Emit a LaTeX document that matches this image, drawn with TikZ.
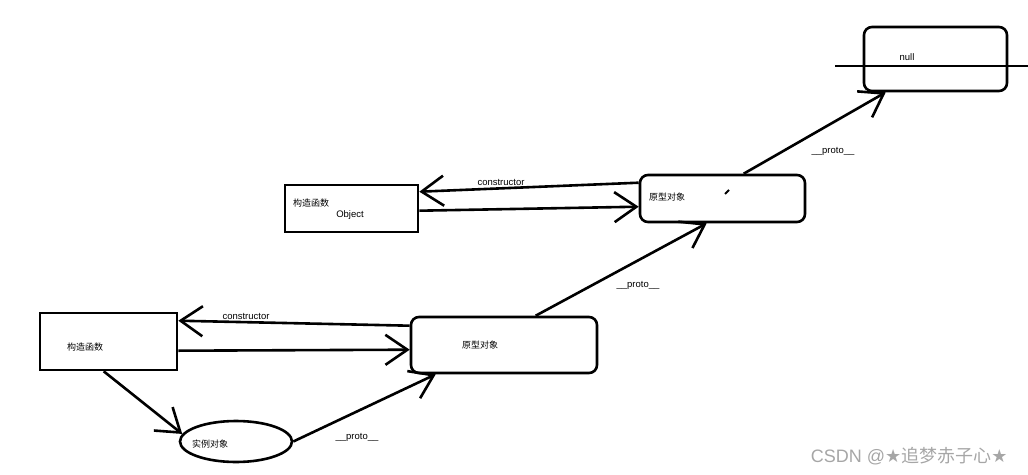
\documentclass[tikz,border=0pt]{standalone}
\usepackage{fontspec}
\setmainfont{Liberation Sans}
\newfontfamily\cjk{Noto Sans CJK SC}
\usetikzlibrary{arrows.meta,calc,shapes.geometric}
\begin{document}
\begin{tikzpicture}[x=1pt,y=-1pt,
  every node/.style={font=\fontsize{9.5}{11}\selectfont},
  cjkt/.style={font=\fontsize{9}{11}\selectfont\cjk},
  conn/.style={line width=2.6pt},
  arr/.style={conn,-{Straight Barb[length=22pt,width=30pt,line width=2.6pt]}},
  sbox/.style={draw,line width=2.6pt,minimum width=#1,inner sep=0pt},
  rbox/.style={draw,line width=2.6pt,rounded corners=8pt,inner sep=0pt},
  lbl/.style={inner sep=0pt},
  wm/.style={text=gray!70,font=\fontsize{18}{20}\selectfont}]
\useasboundingbox (0,0) rectangle (1028,474);
% boxes
\node[rbox,minimum width=143,minimum height=64] (null) at (935.5,59) {};
\node[lbl] (nulltxt) at (907,57) {null};
\node[sbox=133,minimum height=47] (obj) at (351.5,208.5) {};
\node[lbl,cjkt] (objcn) at (311,203) {构造函数};
\node[lbl] (objtxt) at (350,215) {Object};
\node[rbox,minimum width=165,minimum height=47] (up) at (722.5,198.5) {};
\node[lbl,cjkt] (uptxt) at (667,197) {原型对象};
\node[sbox=137,minimum height=57] (con) at (108.5,341.5) {};
\node[lbl,cjkt] (contxt) at (85,347) {构造函数};
\node[rbox,minimum width=186,minimum height=56] (lp) at (504,345) {};
\node[lbl,cjkt] (lptxt) at (480,345) {原型对象};
\node[ellipse,draw,line width=2.6pt,minimum width=112,minimum height=41,inner sep=0pt] (inst) at (236,441.5) {};
\node[lbl,cjkt] (insttxt) at (210,444) {实例对象};
% line through null
\coordinate (nl) at (835,66);
\coordinate (nr) at (1028,66);
\draw[line width=2.6pt] (nl) -- (nr);
% connectors
\draw[arr] ($(up.north west)+(0,9)$) -- ($(obj.north east)+(0,8)$);
\node[lbl] (c1) at (501,182) {constructor};
\draw[arr] ($(obj.north east)+(0,27)$) -- ($(up.north west)+(0,33)$);
\draw[arr] ($(lp.north west)+(0,10)$) -- ($(con.north east)+(0,9)$);
\node[lbl] (c2) at (246,316) {constructor};
\draw[arr] ($(con.north east)+(0,39)$) -- ($(lp.north west)+(0,34)$);
\draw[arr] ($(lp.north west)+(126,0)$) -- ($(up.south west)+(68,0)$);
\node[lbl] (p1) at (638,285) {\_\_proto\_\_};
\draw[arr] ($(up.north west)+(105,0)$) -- ($(null.south west)+(23,0)$);
\node[lbl] (p2) at (833,151) {\_\_proto\_\_};
\draw[arr] ($(con.south west)+(65,0)$) -- (inst.172);
\draw[arr] (inst.east) -- ($(lp.south west)+(26,0)$);
\node[lbl] (p3) at (357,437) {\_\_proto\_\_};
% small dash in upper proto box
\coordinate (d1) at (725,194);
\coordinate (d2) at (729,190);
\draw[line width=2pt] (d1) -- (d2);
% watermark
\node[wm,anchor=east] (wmk) at (1011,456) {CSDN @{\fontspec{DejaVu Sans}★}{\cjk 追梦赤子心}{\fontspec{DejaVu Sans}★}};
\end{tikzpicture}
\end{document}
